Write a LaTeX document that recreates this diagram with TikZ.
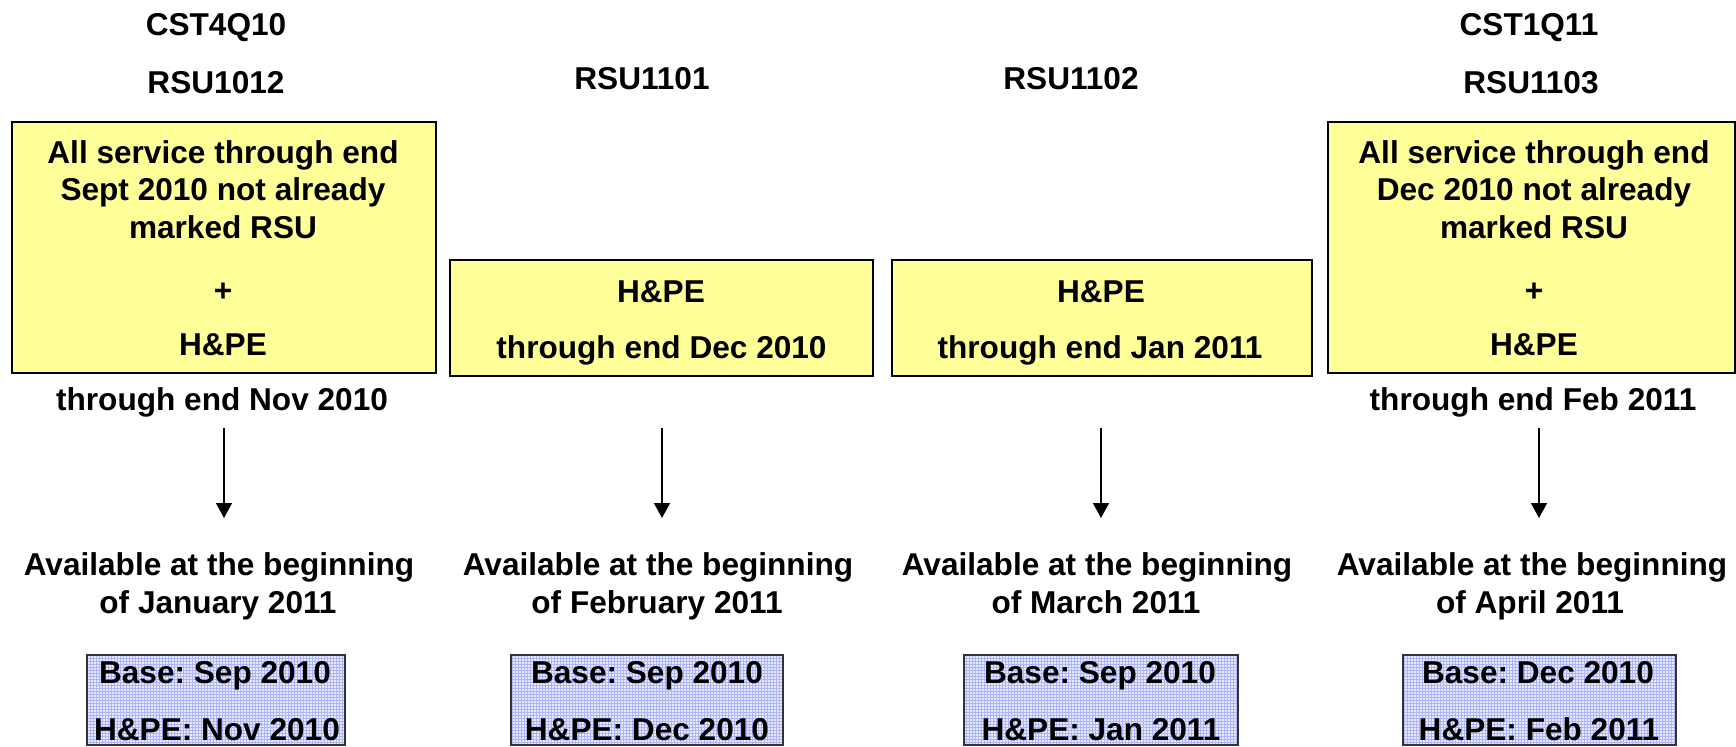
\documentclass[tikz,border=0pt]{standalone}
\usepackage{fontspec}
\setmainfont{Liberation Sans}
\usetikzlibrary{arrows.meta}
\definecolor{ylw}{RGB}{255,255,153}
\definecolor{lav}{RGB}{232,234,255}
\definecolor{gridblue}{RGB}{172,180,250}
\frenchspacing
\begin{document}
\begin{tikzpicture}[x=0.5pt,y=-0.5pt,
  txt/.style={anchor=base, inner sep=0pt, font=\fontsize{15.8}{19}\selectfont\bfseries\frenchspacing},
  ybox/.style={draw=black, line width=1pt, fill=ylw, inner sep=0pt},
  bbox/.style={draw=black!80, line width=0.75pt, fill=lav, inner sep=0pt,
    path picture={\draw[gridblue, line width=0.3pt, step=1.5pt]
      (path picture bounding box.south west) grid (path picture bounding box.north east);}},
  arr/.style={line width=0.75pt, -{Triangle[length=7.5pt,width=8pt]}}]
\useasboundingbox (0,0) rectangle (1736,746);

% ---------- column 1 ----------
\node[txt] (cst4) at (216,35) {CST4Q10};
\node[txt] (rsu1012) at (216,93) {RSU1012};
\node[ybox, minimum width=212pt, minimum height=125.5pt] (y1) at (224,247.5) {};
\node[txt] (y1a) at (223,163) {All service through end};
\node[txt] (y1b) at (223,200) {Sept 2010 not already};
\node[txt] (y1c) at (223,238) {marked RSU};
\node[txt] (y1d) at (223,301) {+};
\node[txt] (y1e) at (223,355) {H\&PE};
\node[txt] (t1) at (222,410) {through end Nov 2010};
\coordinate (a1s) at (224,428);
\coordinate (a1e) at (224,518);
\draw[arr] (a1s) -- (a1e);
\node[txt] (av1a) at (219,575) {Available at the beginning};
\node[txt] (av1b) at (218,613) {of January 2011};
\node[bbox, minimum width=129pt, minimum height=45pt] (b1) at (216,700) {};
\node[txt] (b1a) at (215,683) {Base: Sep 2010};
\node[txt] (b1b) at (217,740) {H\&PE: Nov 2010};

% ---------- column 2 ----------
\node[txt] (rsu1101) at (642,89) {RSU1101};
\node[ybox, minimum width=211.5pt, minimum height=58pt] (y2) at (661.5,318) {};
\node[txt] (y2a) at (661,302) {H\&PE};
\node[txt] (y2b) at (661.5,358) {through end Dec 2010};
\coordinate (a2s) at (662,428);
\coordinate (a2e) at (662,518);
\draw[arr] (a2s) -- (a2e);
\node[txt] (av2a) at (658,575) {Available at the beginning};
\node[txt] (av2b) at (657,613) {of February 2011};
\node[bbox, minimum width=136pt, minimum height=45pt] (b2) at (647,700) {};
\node[txt] (b2a) at (647,683) {Base: Sep 2010};
\node[txt] (b2b) at (647,740) {H\&PE: Dec 2010};

% ---------- column 3 ----------
\node[txt] (rsu1102) at (1071,89) {RSU1102};
\node[ybox, minimum width=210pt, minimum height=58pt] (y3) at (1102,318) {};
\node[txt] (y3a) at (1101,302) {H\&PE};
\node[txt] (y3b) at (1100,358) {through end Jan 2011};
\coordinate (a3s) at (1101,428);
\coordinate (a3e) at (1101,518);
\draw[arr] (a3s) -- (a3e);
\node[txt] (av3a) at (1097,575) {Available at the beginning};
\node[txt] (av3b) at (1096,613) {of March 2011};
\node[bbox, minimum width=137pt, minimum height=45pt] (b3) at (1101,700) {};
\node[txt] (b3a) at (1100,683) {Base: Sep 2010};
\node[txt] (b3b) at (1101,740) {H\&PE: Jan 2011};

% ---------- column 4 ----------
\node[txt] (cst1) at (1529,35) {CST1Q11};
\node[txt] (rsu1103) at (1531,93) {RSU1103};
\node[ybox, minimum width=203.5pt, minimum height=125.5pt] (y4) at (1531.5,247.5) {};
\node[txt] (y4a) at (1534,163) {All service through end};
\node[txt] (y4b) at (1534,200) {Dec 2010 not already};
\node[txt] (y4c) at (1534,238) {marked RSU};
\node[txt] (y4d) at (1534,301) {+};
\node[txt] (y4e) at (1534,355) {H\&PE};
\node[txt] (t4) at (1533,410) {through end Feb 2011};
\coordinate (a4s) at (1539,428);
\coordinate (a4e) at (1539,518);
\draw[arr] (a4s) -- (a4e);
\node[txt] (av4a) at (1532,575) {Available at the beginning};
\node[txt] (av4b) at (1530,613) {of April 2011};
\node[bbox, minimum width=136.5pt, minimum height=45pt] (b4) at (1539.5,700) {};
\node[txt] (b4a) at (1538,683) {Base: Dec 2010};
\node[txt] (b4b) at (1539,740) {H\&PE: Feb 2011};
\end{tikzpicture}
\end{document}
